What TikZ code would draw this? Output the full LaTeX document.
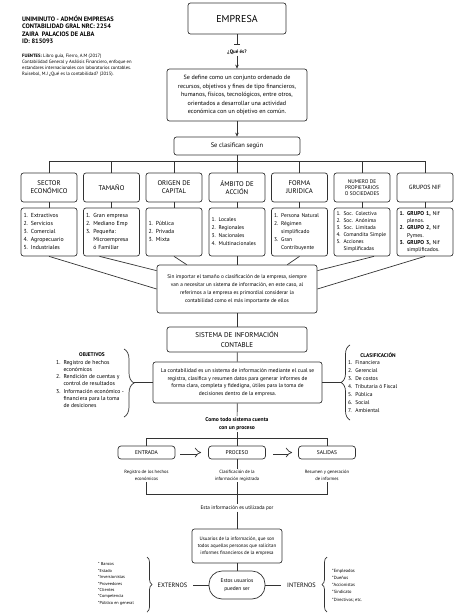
\documentclass[tikz,border=0pt]{standalone}
\usepackage{fontspec}
\setmainfont{PT Sans}
\usetikzlibrary{arrows.meta, positioning, decorations.pathreplacing}

\newcommand{\listado}[1]{\begin{tabular}{@{}l@{\hspace{3pt}}l@{}}#1\end{tabular}}

\begin{document}
\begin{tikzpicture}[
    x=1pt, y=-1pt,
    % Estilos de nodos
    caja/.style={rectangle, draw=black!80, line width=0.7pt, rounded corners=2.5pt, align=center, inner sep=1pt},
    titulo/.style={caja, minimum width=56pt, minimum height=29pt, font=\fontsize{6.8}{8}\selectfont},
    lista/.style={caja, text width=51pt, inner xsep=2.5pt, minimum height=48pt, align=left, font=\fontsize{5.8}{8}\selectfont},
    parrafo/.style={caja, font=\fontsize{5.3}{8}\selectfont},
    etapa/.style={caja, rounded corners=3pt, minimum width=57pt, minimum height=13pt, font=\fontsize{5.5}{7}\selectfont},
    nota/.style={align=center, inner sep=1pt, font=\fontsize{4.6}{7}\selectfont},
    rotulo/.style={inner sep=1pt, font=\fontsize{5.4}{7}\selectfont\bfseries},
    linea/.style={draw=black!80, line width=0.7pt},
    flecha/.style={linea, -{Stealth[length=4pt, width=3.5pt]}},
    hueca/.style={draw=black!80, double, double distance=2.6pt, line width=0.7pt, -{Implies}},
    llave/.style={linea, decorate, decoration={brace, amplitude=#1}},
    llave/.default=6pt
]
\useasboundingbox (0,0) rectangle (474,613);

% Encabezado
\node[anchor=west, align=left, inner sep=0pt, font=\fontsize{6.4}{7.5}\selectfont\bfseries] (datos) at (22,29.8) {UNIMINUTO - ADMÓN EMPRESAS\\CONTABILIDAD GRAL NRC: 2254\\ZAIRA\ \ PALACIOS DE ALBA\\ID: 815093};
\node[anchor=west, align=left, inner sep=0pt, font=\fontsize{4.7}{6}\selectfont] (fuentes) at (22,65) {\textbf{FUENTES:} Libro guía, Fierro, A.M (2017)\\Contabilidad General y Análisis Financiero, enfoque en\\estandares internacionales con laboratorios contables.\\Ruisebol, M.J ¿Qué es la contabilidad? (2015).};

% Empresa y definicion
\node[caja, minimum width=98pt, minimum height=31pt, font=\fontsize{10}{12}\selectfont] (empresa) at (237,18.5) {EMPRESA};
\node[inner sep=1pt, font=\fontsize{5}{6}\selectfont\bfseries] (que) at (237,52) {¿Qué és?};
\node[parrafo, minimum width=140pt, minimum height=52pt, font=\fontsize{6.1}{8.5}\selectfont] (define) at (237,95) {Se define como un conjunto ordenado de\\recursos, objetivos y fines de tipo financieros,\\humanos, físicos, tecnológicos, entre otros,\\orientados a desarrollar una actividad\\económica con un objetivo en común.};
\node[caja, minimum width=126pt, minimum height=18pt, font=\fontsize{6.5}{7}\selectfont] (segun) at (237,146) {Se clasifican según};

\draw[linea, -{Bar[width=6pt]}, shorten >=4pt] (empresa) -- (que);
\draw[flecha] (que) -- (define);
\draw[flecha] (define) -- (segun);

% Fila 1: clasificaciones
\node[titulo] (sector) at (49,187.5) {SECTOR\\ECONÓMICO};
\node[titulo] (tamano) at (111.5,187.5) {TAMAÑO};
\node[titulo] (origen) at (174,187.5) {ORIGEN DE\\CAPITAL};
\node[titulo] (ambito) at (237,187.5) {ÁMBITO DE\\ACCIÓN};
\node[titulo] (forma) at (299.5,187.5) {FORMA\\JURIDICA};
\node[titulo, font=\fontsize{5.3}{6.3}\selectfont] (numero) at (362,187.5) {NUMERO DE\\PROPIETARIOS\\O SOCIEDADES};
\node[titulo, font=\fontsize{6}{7}\selectfont] (grupos) at (425,187.5) {GRUPOS NIF};

\coordinate (bus) at (237,161);
\draw[linea] (segun) -- (bus);
\draw[linea] (sector.north) -- (sector.north |- bus) -- (grupos.north |- bus) -- (grupos.north);
\foreach \n in {tamano, origen, ambito, forma, numero}
    \draw[linea] (\n.north) -- (\n.north |- bus);

% Fila 2: listados
\node[lista] (lsector) at (49,232) {\listado{1. & Extractivos\\ 2. & Servicios\\ 3. & Comercial\\ 4. & Agropecuario\\ 5. & Industriales}};
\node[lista] (ltamano) at (111.5,232) {\listado{1. & Gran empresa\\ 2. & Mediano Emp\\ 3. & Pequeña:\\ & Microempresa\\ & ó Familiar}};
\node[lista] (lorigen) at (174,232) {\listado{1. & Pública\\ 2. & Privada\\ 3. & Mixta}};
\node[lista, font=\fontsize{5.5}{8}\selectfont] (lambito) at (237,232) {\listado{1. & Locales\\ 2. & Regionales\\ 3. & Nacionales\\ 4. & Multinacionales}};
\node[lista, font=\fontsize{5.5}{8}\selectfont] (lforma) at (299.5,232) {\listado{1. & Persona Natural\\ 2. & Régimen\\ & simplificado\\ 3. & Gran\\ & Contribuyente}};
\node[lista, font=\fontsize{5.4}{7}\selectfont] (lnumero) at (362,232) {\listado{1. & Soc. Colectiva\\ 2. & Soc. Anónima\\ 3. & Soc. Limitada\\ 4. & Comandita Simple\\ 5. & Acciones\\ & Simplificadas}};
\node[lista, font=\fontsize{5.6}{7.3}\selectfont] (lgrupos) at (425,232) {\listado{\textbf{1.} & \textbf{GRUPO 1,} Nif\\ & plenos.\\ \textbf{2.} & \textbf{GRUPO 2,} Nif\\ & Pymes.\\ \textbf{3.} & \textbf{GRUPO 3,} Nif\\ & simplificados.}};

\foreach \n in {sector, tamano, origen, ambito, forma, numero, grupos}
    \draw[linea] (\n) -- (l\n);

% Conclusion
\node[parrafo, minimum width=160pt, minimum height=48pt] (importar) at (237,289) {Sin importar el tamaño o clasificación de la empresa, siempre\\van a necesitar un sistema de información, en este caso, al\\referirnos a la empresa es primordial considerar la\\contabilidad como el más importante de ellos};

\draw[linea] (lsector.south) -- (importar.west);
\draw[linea] ([xshift=-12pt]ltamano.south) -- ([yshift=-6pt]importar.north west);
\draw[linea] (lorigen.south) -- ([xshift=30pt]importar.north west);
\draw[linea] (lambito) -- (importar);
\draw[linea] (lforma.south) -- ([xshift=-30pt]importar.north east);
\draw[linea] ([xshift=12pt]lnumero.south) -- ([yshift=-6pt]importar.north east);
\draw[linea] (lgrupos.south) -- (importar.east);

% Sistema de informacion contable
\node[caja, minimum width=140pt, minimum height=25pt, font=\fontsize{7}{9.5}\selectfont] (sistema) at (237,339.5) {SISTEMA DE INFORMACIÓN\\CONTABLE};
\node[parrafo, minimum width=169pt, minimum height=41pt, font=\fontsize{5.5}{7.7}\selectfont] (contable) at (237.5,382.5) {La contabilidad es un sistema de información mediante el cual se\\registra, clasifica y resumen datos para generar informes de\\forma clara, completa y fidedigna, útiles para la toma de\\decisiones dentro de la empresa.};
\draw[linea] (importar) -- (sistema);
\draw[linea] (sistema) -- (contable);

% Objetivos
\node[rotulo] (objetivos) at (92,355) {OBJETIVOS};
\node[anchor=west, inner sep=0pt, font=\fontsize{5.7}{7.2}\selectfont] (lobjetivos) at (56,384.5) {\listado{1. & Registro de hechos\\ & económicos\\ 2. & Rendición de cuentas y\\ & control de resultados\\ 3. & Información económico -\\ & financiera para la toma\\ & de desiciones}};
\draw[llave=10pt] (124,349) -- (124,417);
\coordinate (pobj) at (134,382.5);
\draw[linea] (pobj) -- (contable.west);

% Clasificacion
\node[rotulo] (clasificacion) at (378,355) {CLASIFICACIÓN};
\node[anchor=west, inner sep=0pt, font=\fontsize{5.5}{8}\selectfont] (lclasificacion) at (348,387) {\listado{1. & Financiera\\ 2. & Gerencial\\ 3. & De costos\\ 4. & Tributaria ó Fiscal\\ 5. & Pública\\ 6. & Social\\ 7. & Ambiental}};
\draw[llave=9pt] (350,420) -- (350,345);
\coordinate (pcla) at (341,382.5);
\draw[linea] (contable.east) -- (pcla);

% Proceso
\node[rotulo, align=center, font=\fontsize{5.6}{8}\selectfont\bfseries] (como) at (237,424) {Como todo sistema cuenta\\con un proceso};
\node[etapa] (entrada) at (146.5,452.5) {ENTRADA};
\node[etapa] (proceso) at (237,452.5) {PROCESO};
\node[etapa] (salidas) at (327,452.5) {SALIDAS};
\draw[linea] (contable) -- (como);
\draw[linea] (como) -- (proceso);
\draw[linea] (entrada.north) -- ++(0,-7) -| (salidas.north);
\draw[hueca] ([xshift=5pt]entrada.east) -- ([xshift=-7pt]proceso.west);
\draw[hueca] ([xshift=7pt]proceso.east) -- ([xshift=-6pt]salidas.west);

\node[nota] (dentrada) at (146.5,475.5) {Registro de los hechos\\económicos};
\node[nota] (dproceso) at (237,475.5) {Clasificación de la\\información registrada};
\node[nota] (dsalidas) at (327,475.5) {Resumen y generación\\de informes};
\draw[linea] (proceso) -- (dproceso);
\draw[linea] (dentrada.south) -- ++(0,12) -| (dsalidas.south);

% Usuarios
\node[inner sep=1pt, font=\fontsize{5.2}{6}\selectfont] (esta) at (237,508) {Esta información es utilizada por};
\node[parrafo, minimum width=90pt, minimum height=34pt, font=\fontsize{4.9}{7.2}\selectfont] (usuarios) at (237,546) {Usuarios de la información, que son\\todos aquellas personas que solicitan\\informes financieros de la empresa};
\node[caja, rounded corners=13pt, minimum width=56pt, minimum height=28pt, font=\fontsize{5.4}{8}\selectfont] (estos) at (237,585) {Estos usuarios\\pueden ser};
\draw[linea] (dproceso) -- (esta);
\draw[linea] (esta) -- (usuarios);
\draw[linea] (usuarios) -- (estos);

% Externos
\node[inner sep=1pt, font=\fontsize{6.3}{7}\selectfont] (externos) at (172.5,585) {EXTERNOS};
\draw[linea, shorten >=5pt] (estos) -- (externos);
\draw[llave=5pt] (147,557) -- (147,612);
\node[anchor=west, align=left, inner sep=0pt, font=\fontsize{4.3}{6.4}\selectfont] (lexternos) at (98,584) {* Bancos\\*Estado\\*Inversionistas\\*Proveedores\\*Clientes\\*Competencia\\*Público en general};

% Internos
\node[inner sep=1pt, font=\fontsize{6.3}{7}\selectfont] (internos) at (301.5,585) {INTERNOS};
\draw[linea, shorten >=5pt] (estos) -- (internos);
\draw[llave=5pt] (327,612) -- (327,557);
\node[anchor=west, align=left, inner sep=0pt, font=\fontsize{4.5}{7.2}\selectfont] (linternos) at (332,585.5) {*Empleados\\*Dueños\\*Accionistas\\*Sindicato\\*Directivos; etc.};

\end{tikzpicture}
\end{document}
